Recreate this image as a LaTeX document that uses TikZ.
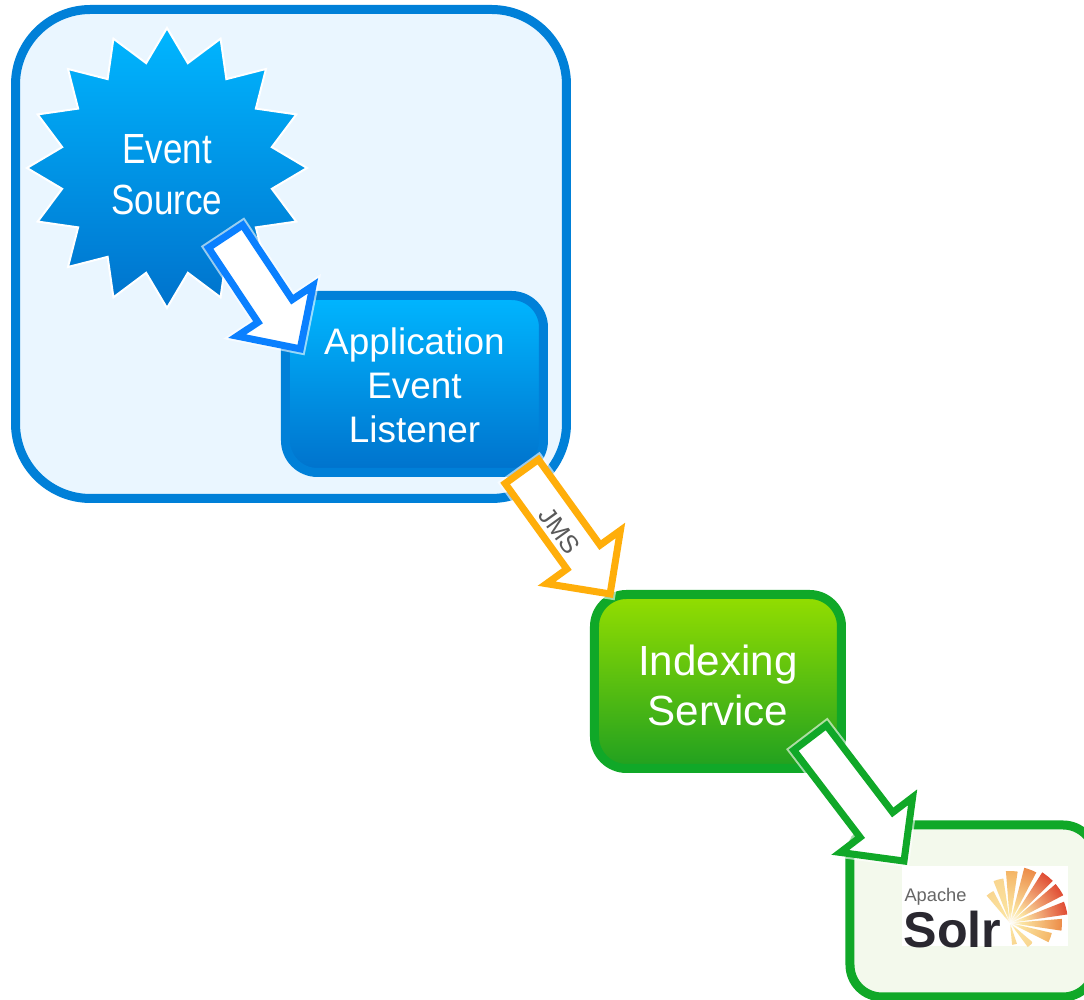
\documentclass[tikz,border=0pt]{standalone}
\usepackage{fontspec}
\setmainfont{Liberation Sans}
\newfontfamily\narrowfont[FakeStretch=0.83]{Liberation Sans}
\usetikzlibrary{shapes.geometric,shapes.arrows}
\definecolor{blueline}{HTML}{0080D8}
\definecolor{bluepale}{HTML}{EAF6FF}
\definecolor{bluetop}{HTML}{00B6FF}
\definecolor{bluebottom}{HTML}{0072CC}
\definecolor{bluearrow}{HTML}{0A80FF}
\definecolor{orangearrow}{HTML}{FFAE0A}
\definecolor{greenline}{HTML}{10A828}
\definecolor{greenpale}{HTML}{F3F9EC}
\definecolor{greentop}{HTML}{94DE00}
\definecolor{greenbottom}{HTML}{20A020}
\definecolor{raylight}{HTML}{F9D690}
\definecolor{rayyellow}{HTML}{F4B566}
\definecolor{rayorange}{HTML}{EC8C48}
\definecolor{rayred}{HTML}{E04C34}
\definecolor{raymiddle}{HTML}{FBE3A0}
\definecolor{solrink}{HTML}{2A2830}
\colorlet{rayouter}{rayred}
\pgfdeclareradialshading[rayouter]{sunray}{\pgfpoint{0bp}{0bp}}{color(0bp)=(white); color(6bp)=(raymiddle); color(25bp)=(rayouter); color(50bp)=(rayouter)}
\newcommand\liftline[1]{\rule{0pt}{#1}}
\tikzset{
    box/.style={draw, rounded corners=0.32cm, line width=0.09cm},
    label/.style={text=white, align=center},
    blockarrow/.style={single arrow, draw=#1, fill=white, line width=0.07cm,
        single arrow tip angle=90, single arrow head extend=0.25cm,
        text height=0.295cm, text depth=0.045cm, inner sep=0pt, anchor=tip,
        preaction={draw=white, draw opacity=0.6, line width=0.11cm}},
}
\begin{document}
\begin{tikzpicture}
    \useasboundingbox (0, 0) rectangle (10.84, -10);
    \clip (0, 0) rectangle (10.84, -10);
    % containers
    \node[box, draw=blueline, fill=bluepale, rounded corners=0.75cm, minimum width=5.51cm, minimum height=4.89cm] (appBox) at (2.91, -2.54) {};
    \node[box, draw=greenline, fill=greenpale, minimum width=2.45cm, minimum height=1.72cm] (solrBox) at (9.725, -9.11) {};
    % solr logo
    \node[fill=white, minimum width=1.66cm, minimum height=0.80cm, inner sep=0pt] (solrLogo) at (9.85, -9.06) {};
    \node[text=black!60, font=\fontsize{5.2}{6}\selectfont, inner sep=0pt] (apacheText) at (9.355, -8.97) {Apache};
    \node[text=solrink, font=\fontsize{14.3}{16}\selectfont\bfseries, inner sep=0pt] (solrText) at (9.525, -9.30) {Solr};
    \coordinate (sunCentre) at (10.10, -9.23);
    \foreach \ang/\rad/\col in {124/0.36/raylight, 105/0.45/raylight, 88/0.52/rayyellow, 69/0.57/rayorange,
        51/0.60/rayred, 34/0.60/rayred, 15/0.58/rayred, -2/0.52/rayorange, -20/0.43/rayyellow,
        -47/0.30/raylight, -78/0.22/raylight} {
        \begin{scope}
            \clip (sunCentre) -- ++(\ang-6.5:\rad) arc (\ang-6.5:\ang+6.5:\rad) -- cycle;
            \colorlet{rayouter}{\col}
            \shade[shading=sunray] (sunCentre) circle (\rad);
        \end{scope}
    }
    % event source and listener
    \node[star, star points=16, star point ratio=1.31, minimum size=2.80cm, inner sep=0pt,
        draw=white, line width=0.02cm, top color=bluetop, bottom color=bluebottom, label,
        font=\narrowfont\fontsize{12}{14.4}\selectfont] (eventSource) at (1.67, -1.68) {\liftline{12pt}Event\\Source};
    \node[box, draw=blueline, top color=bluetop, bottom color=bluebottom, label,
        font=\fontsize{10.5}{12.5}\selectfont, minimum width=2.58cm, minimum height=1.77cm] (eventListener) at (4.145, -3.84) {\liftline{8.6pt}Application\\Event\\Listener};
    \node[box, draw=greenline, top color=greentop, bottom color=greenbottom, label,
        font=\fontsize{12}{14.3}\selectfont, minimum width=2.47cm, minimum height=1.74cm] (indexingService) at (7.18, -6.815) {\liftline{10.9pt}Indexing\\Service};
    % arrows
    \node[blockarrow=bluearrow, rotate=-56.4, minimum height=1.35cm] (sourceArrow) at (3.03, -3.53) {};
    \node[blockarrow=orangearrow, rotate=-54.2, minimum height=1.51cm, text=black!65, font=\fontsize{7.2}{8}\selectfont] (jmsArrow) at (6.13, -5.98) {\hspace*{0.1cm}JMS};
    \node[blockarrow=greenline, rotate=-52.7, minimum height=1.55cm] (solrArrow) at (9.07, -8.65) {};
\end{tikzpicture}
\end{document}
